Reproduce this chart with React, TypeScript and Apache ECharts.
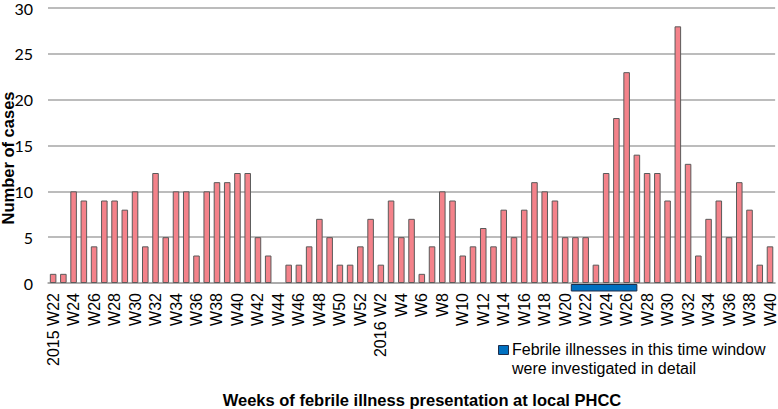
import React, { useEffect, useRef } from "react";
import * as echarts from "echarts";

const weeks: string[] = [
  "2015 W22", "W23", "W24", "W25", "W26", "W27", "W28", "W29", "W30", "W31",
  "W32", "W33", "W34", "W35", "W36", "W37", "W38", "W39", "W40", "W41",
  "W42", "W43", "W44", "W45", "W46", "W47", "W48", "W49", "W50", "W51",
  "W52", "W53", "2016 W2", "W3", "W4", "W5", "W6", "W7", "W8", "W9",
  "W10", "W11", "W12", "W13", "W14", "W15", "W16", "W17", "W18", "W19",
  "W20", "W21", "W22", "W23", "W24", "W25", "W26", "W27", "W28", "W29",
  "W30", "W31", "W32", "W33", "W34", "W35", "W36", "W37", "W38", "W39",
  "W40",
];

const cases: number[] = [
  1, 1, 10, 9, 4, 9, 9, 8, 10, 4, 12, 5, 10, 10, 3, 10, 11, 11, 12, 12, 5,
  3, 0, 2, 2, 4, 7, 5, 2, 2, 4, 7, 2, 9, 5, 7, 1, 4, 10, 9, 3, 4, 6, 4, 8,
  5, 8, 11, 10, 9, 5, 5, 5, 2, 12, 18, 23, 14, 12, 12, 9, 28, 13, 3, 7, 9, 5, 11, 8, 2, 4,
];

// investigation window (indices into weeks, 2016 part)
const windowStartIdx = 51; // 2016 W21
const windowEndIdx = 57; // 2016 W27

const yTicks = { min: 0, max: 30, interval: 5 };

const legendText = "Febrile illnesses in this time window\nwere investigated in detail";
const xTitle = "Weeks of febrile illness presentation at local PHCC";
const yTitle = "Number of cases";

export default function App() {
  const ref = useRef<HTMLDivElement>(null);
  useEffect(() => {
    if (!ref.current) return;
    const chart = echarts.init(ref.current, undefined, { renderer: "svg" });
    chart.setOption({
      animation: false,
      grid: { left: 48, right: 2, top: 6, bottom: 126, containLabel: false },
      xAxis: {
        type: "category",
        data: weeks,
        axisLine: { show: true, lineStyle: { color: "#a6a6a6", width: 1.5 } },
        axisTick: { show: false },
        axisLabel: {
          interval: 1,
          rotate: 90,
          margin: 10,
          fontFamily: "Liberation Sans",
          fontSize: 16,
          color: "#000",
        },
        z: 1,
      },
      yAxis: {
        type: "value",
        min: yTicks.min,
        max: yTicks.max,
        interval: yTicks.interval,
        axisLine: { show: false },
        axisTick: { show: false },
        axisLabel: { fontFamily: "Lato", fontSize: 16, color: "#000", margin: 15 },
        splitLine: { lineStyle: { color: "#a6a6a6", width: 1.5 } },
      },
      series: [
        {
          type: "bar",
          data: cases.map((v) => (v === 0 ? null : v)),
          barCategoryGap: "36%",
          itemStyle: { color: "#f4828a", borderColor: "#5a5a5a", borderWidth: 1 },
          z: 3,
        },
        {
          type: "custom",
          data: [[windowStartIdx, windowEndIdx]],
          clip: false,
          z: 4,
          renderItem: (params: any, api: any) => {
            const s = api.coord([api.value(0), 0]);
            const e = api.coord([api.value(1), 0]);
            const bw = api.size([1, 0])[0];
            const x0 = s[0] - bw / 2 + 1;
            const x1 = e[0];
            return {
              type: "rect",
              shape: { x: x0, y: s[1] + 1.5, width: x1 - x0, height: 6.5 },
              style: { fill: "#0070c0", stroke: "#1f2d4a", lineWidth: 1 },
            };
          },
        },
      ],
      graphic: [
        {
          type: "rect",
          left: 498,
          top: 345,
          shape: { width: 10, height: 9 },
          style: { fill: "#0070c0", stroke: "#1f2d4a", lineWidth: 1 },
        },
        {
          type: "text",
          left: 512,
          top: 340,
          style: {
            text: legendText,
            fontFamily: "Liberation Sans",
            fontSize: 16,
            lineHeight: 19,
            fill: "#000",
          },
        },
        {
          type: "text",
          x: 422,
          y: 400,
          style: {
            text: xTitle,
            fontFamily: "Liberation Sans",
            fontWeight: "bold",
            fontSize: 16.5,
            fill: "#000",
            align: "center",
            verticalAlign: "middle",
          },
        },
        {
          type: "text",
          x: 8,
          y: 158,
          rotation: Math.PI / 2,
          style: {
            text: yTitle,
            fontFamily: "Liberation Sans",
            fontWeight: "bold",
            fontSize: 16.5,
            fill: "#000",
            align: "center",
            verticalAlign: "middle",
          },
        },
      ],
    });
    return () => chart.dispose();
  }, []);
  return <div ref={ref} style={{ width: 778, height: 409, position: "absolute", left: 0, top: 0 }} />;
}
